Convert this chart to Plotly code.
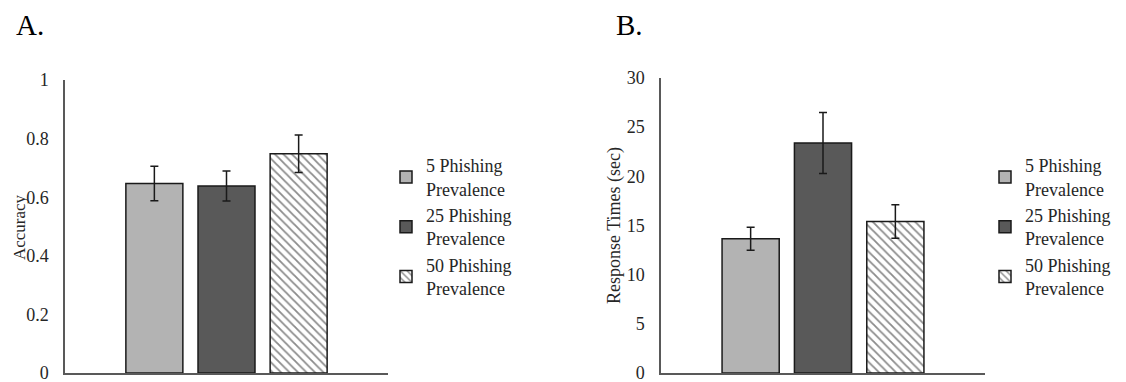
import plotly.graph_objects as go

W, H = 1126, 382
OFF = 8  # page offset of the plot div

series_names = ["5 Phishing<br>Prevalence", "25 Phishing<br>Prevalence", "50 Phishing<br>Prevalence"]
accuracy = [0.647, 0.638, 0.748]
accuracy_err = [0.059, 0.051, 0.064]
rt = [13.65, 23.4, 15.4]
rt_err = [1.17, 3.1, 1.7]
category = [""]

fills = ["#b3b3b3", "#595959", "#ffffff"]
patterns = ["", "", "\\"]

FONT = "Liberation Serif, Times New Roman, serif"

fig = go.Figure()

def add_bars(values, errs, xa, ya, legend):
    for name, v, e, c, p in zip(series_names, values, errs, fills, patterns):
        marker = dict(color=c, line=dict(color="#1a1a1a", width=1.5))
        if p:
            marker["pattern"] = dict(shape=p, fgcolor="#8c8c8c", bgcolor="#ffffff",
                                     size=6, solidity=0.3, fillmode="replace")
        fig.add_trace(go.Bar(
            x=category, y=[v], name=name, marker=marker,
            error_y=dict(type="data", array=[e], color="#1a1a1a", thickness=1.5, width=4),
            xaxis=xa, yaxis=ya, legend=legend, legendgroup=legend + name,
        ))

add_bars(accuracy, accuracy_err, "x", "y", "legend")
add_bars(rt, rt_err, "x2", "y2", "legend2")

def px_x(p):
    return (p - OFF) / W

def px_y(p):
    return (H - (p - OFF)) / H

axis_line = dict(showline=True, linecolor="#595959", linewidth=1.5, showgrid=False,
                 zeroline=False, ticks="", tickfont=dict(family=FONT, size=18, color="#262626"))

def vtitle(text, x, y, size):
    return dict(text=text, x=px_x(x), y=px_y(y), xref="paper", yref="paper",
                xanchor="center", yanchor="middle", textangle=-90, showarrow=False,
                borderpad=0, font=dict(family=FONT, size=size, color="#262626"))

def letter(text, x, y):
    return dict(text=text, x=px_x(x), y=px_y(y), xref="paper", yref="paper",
                xanchor="left", yanchor="top", showarrow=False, borderpad=0,
                font=dict(family=FONT, size=29, color="#000000"))

fig.update_layout(
    width=W, height=H,
    margin=dict(l=0, r=0, t=0, b=0, autoexpand=False),
    paper_bgcolor="white", plot_bgcolor="white",
    barmode="group", bargap=0.33, bargroupgap=0.21,
    font=dict(family=FONT, size=18, color="#262626"),
    xaxis=dict(domain=[px_x(65), px_x(388)], showticklabels=False, anchor="y", **axis_line),
    yaxis=dict(domain=[px_y(373), px_y(80)], range=[0, 1], dtick=0.2, anchor="x",
               ticklabelstandoff=11, **axis_line),
    xaxis2=dict(domain=[px_x(661), px_x(985)], showticklabels=False, anchor="y2", **axis_line),
    yaxis2=dict(domain=[px_y(373), px_y(78)], range=[0, 30], dtick=5, anchor="x2",
                ticklabelstandoff=11, **axis_line),
    legend=dict(x=px_x(386), y=px_y(147), xanchor="left", yanchor="top",
                font=dict(family=FONT, size=18, color="#262626"), tracegroupgap=0,
                itemwidth=30, bgcolor="rgba(0,0,0,0)"),
    legend2=dict(x=px_x(985), y=px_y(147), xanchor="left", yanchor="top",
                 font=dict(family=FONT, size=18, color="#262626"), tracegroupgap=0,
                 itemwidth=30, bgcolor="rgba(0,0,0,0)"),
    annotations=[
        letter("A.", 15, 8),
        letter("B.", 615, 8),
        vtitle("Accuracy", 19, 227, 17),
        vtitle("Response Times (sec)", 614, 226, 18),
    ],
)

fig.write_html("out.html")
